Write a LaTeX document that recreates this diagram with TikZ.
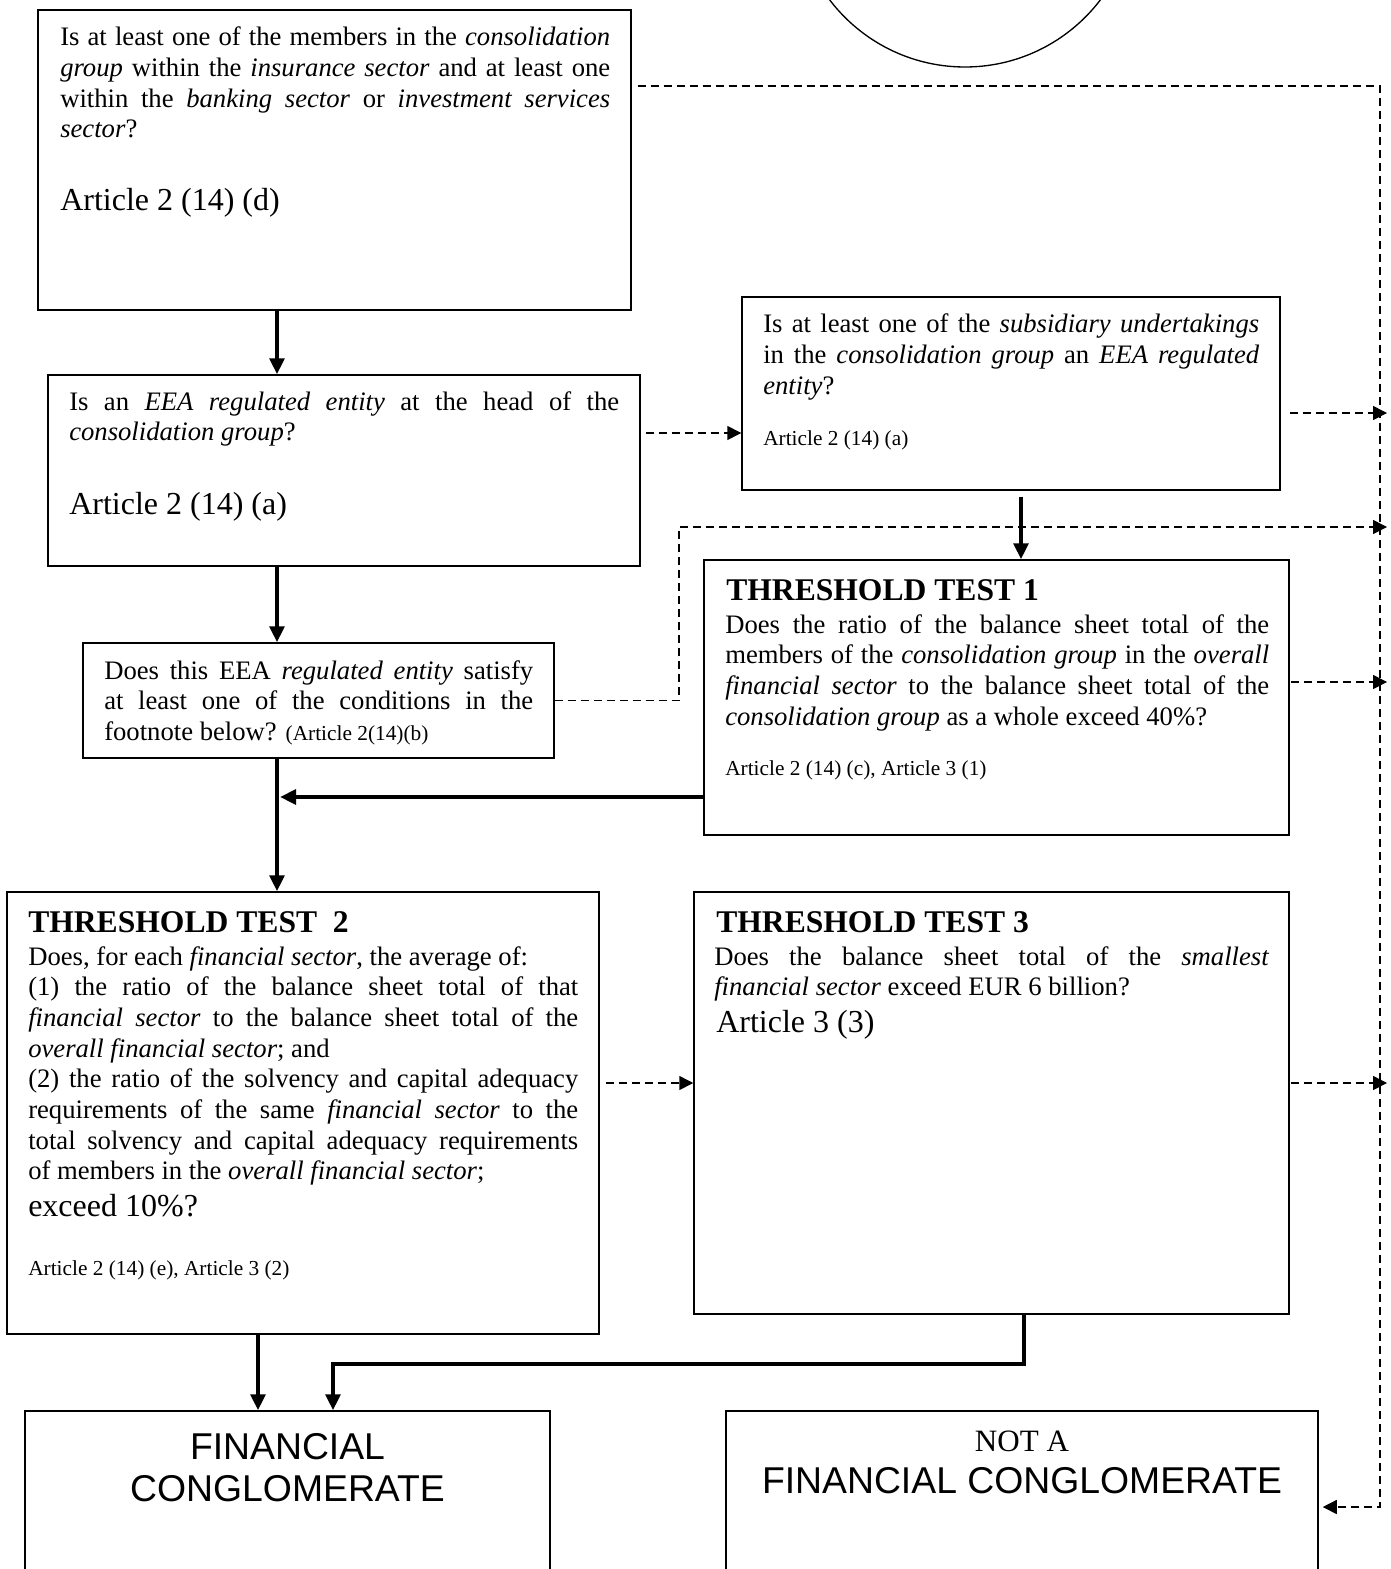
\documentclass[tikz,border=0pt]{standalone}
\usepackage{fontspec}
\setmainfont{Liberation Serif}
\setsansfont{Liberation Sans}
\usetikzlibrary{arrows.meta,fit,calc}
\tolerance=10000 \hbadness=10000 \hyphenpenalty=10000 \exhyphenpenalty=10000
\newcommand\bodyf{\fontsize{20}{23}\selectfont}
\newcommand\smallf{\fontsize{16}{19}\selectfont}
\newcommand\bigf{\fontsize{24}{28}\selectfont}
\newcommand\midf{\fontsize{24}{27}\selectfont}
\newcommand\headf{\fontsize{23.7}{27}\selectfont\bfseries}
\begin{document}
\begin{tikzpicture}[x=0.75pt,y=-0.75pt,
  box/.style={draw, line width=1.1pt, inner sep=0pt},
  txt/.style={anchor=base west, inner sep=0pt, align=justify, font=\bodyf},
  lbl/.style={anchor=base west, inner sep=0pt},
  flow/.style={line width=3.6pt, -{Triangle[length=12pt,width=11pt]}},
  alt/.style={line width=1.1pt, dash pattern=on 6pt off 3.75pt, -{Triangle[length=10.5pt,width=10.5pt]}}
]
\useasboundingbox (0,0) rectangle (1390,1569);
\clip (0,0) rectangle (1390,1569);

\node[draw, circle, line width=1pt, minimum size=255pt, inner sep=0pt] (start) at (965,-103) {};

% boxes
\node[box, fit={(38,10) (631,310)}] (A) {};
\node[box, fit={(48,375) (640,566)}] (B) {};
\node[box, fit={(742,297) (1280,490)}] (C) {};
\node[box, fit={(83,643) (554,758)}] (D) {};
\node[box, fit={(704,560) (1289,835)}] (E) {};
\node[box, fit={(7,892) (599,1334)}] (F) {};
\node[box, fit={(694,892) (1289,1314)}] (G) {};
\node[box, fit={(25,1411) (550,1600)}] (H) {};
\node[box, fit={(726,1411) (1318,1600)}] (I) {};

% texts
\node[txt, text width=412.5pt] (At) at (60,46) {Is at least one of the members in the \textit{consolidation}\linebreak \textit{group} within the \textit{insurance sector} and at least one\linebreak within the \textit{banking sector} or \textit{investment services}\linebreak \textit{sector}?};
\node[lbl, font=\bigf] (Aa) at (60,211) {Article 2 (14) (d)};

\node[txt, text width=412.5pt] (Bt) at (69,410) {Is an \textit{EEA regulated entity} at the head of the\linebreak \textit{consolidation group}?};
\node[lbl, font=\bigf] (Ba) at (69,514) {Article 2 (14) (a)};

\node[txt, text width=372pt] (Ct) at (763,333) {Is at least one of the \textit{subsidiary undertakings}\linebreak in the \textit{consolidation group} an \textit{EEA regulated}\linebreak \textit{entity}?};
\node[lbl, font=\smallf] (Ca) at (763,445) {Article 2 (14) (a)};

\node[txt, text width=321.75pt] (Dt) at (104,679) {Does this EEA \textit{regulated entity} satisfy\linebreak at least one of the conditions in the\linebreak footnote below? {\smallf(Article 2(14)(b)}};

\node[lbl, font=\headf] (Eh) at (726,600) {THRESHOLD TEST 1};
\node[txt, text width=408pt] (Et) at (725,633) {Does the ratio of the balance sheet total of the\linebreak members of the \textit{consolidation group} in the \textit{overall}\linebreak \textit{financial sector} to the balance sheet total of the\linebreak \textit{consolidation group} as a whole exceed 40\%?};
\node[lbl, font=\smallf] (Ea) at (725,775) {Article 2 (14) (c), Article 3 (1)};

\node[lbl, font=\headf] (Fh) at (28,932) {THRESHOLD TEST\ \ 2};
\node[txt, text width=412.5pt] (Ft) at (28,965) {Does, for each \textit{financial sector}, the average of:\\(1) the ratio of the balance sheet total of that\linebreak \textit{financial sector} to the balance sheet total of the\linebreak \textit{overall financial sector}; and\\(2) the ratio of the solvency and capital adequacy\linebreak requirements of the same \textit{financial sector} to the\linebreak total solvency and capital adequacy requirements\linebreak of members in the \textit{overall financial sector};};
\node[lbl, font=\midf] (Fx) at (28,1216) {exceed 10\%?};
\node[lbl, font=\smallf] (Fa) at (28,1275) {Article 2 (14) (e), Article 3 (2)};

\node[lbl, font=\headf] (Gh) at (716,932) {THRESHOLD TEST 3};
\node[txt, text width=416.25pt] (Gt) at (714,965) {Does the balance sheet total of the \textit{smallest}\linebreak \textit{financial sector} exceed EUR 6 billion?};
\node[lbl, font=\midf] (Ga) at (716,1032) {Article 3 (3)};

\node[align=center, inner sep=0pt, font=\sffamily\fontsize{28}{31.5}\selectfont] (Ht) at (287.5,1468) {FINANCIAL\\CONGLOMERATE};
\node[anchor=base, inner sep=0pt, font=\fontsize{23.3}{27}\selectfont] (In) at (1022,1451) {NOT A};
\node[anchor=base, inner sep=0pt, font=\sffamily\fontsize{28}{31.5}\selectfont] (It) at (1022,1493) {FINANCIAL CONGLOMERATE};

% coordinates
\coordinate (trunk) at (277,0);
\coordinate (topdash) at (1380,86);
\coordinate (railtip) at (1387,0);
\coordinate (bc) at (0,433);
\coordinate (cr) at (0,413);
\coordinate (dk) at (679,527);
\coordinate (er) at (0,682);
\coordinate (fg) at (0,1083);
\coordinate (ej) at (280,797);
\coordinate (ce) at (1021,0);
\coordinate (fh) at (258,0);
\coordinate (gx) at (1024,1364);
\coordinate (hx) at (333,1364);
\coordinate (iin) at (1380,1507);

% solid flow
\draw[flow] (A.south -| trunk) -- (B.north -| trunk);
\draw[flow] (B.south -| trunk) -- (D.north -| trunk);
\draw[flow] (D.south -| trunk) -- (F.north -| trunk);
\draw[flow] (E.west |- ej) -- (ej);
\draw[flow] ($(C.south -| ce)+(0,6)$) -- (E.north -| ce);
\draw[flow] (F.south -| fh) -- (H.north -| fh);
\draw[flow] (G.south -| gx) -- (gx) -- (hx) -- (H.north -| hx);

% dashed alternatives
\draw[alt] ($(A.east |- topdash)+(6,0)$) -- (topdash) -- (iin) -- ($(I.east |- iin)+(4,0)$);
\draw[alt] ($(B.east |- bc)+(5,0)$) -- (C.west |- bc);
\draw[alt] ($(C.east |- cr)+(9,0)$) -- (railtip |- cr);
\draw[alt] (D.east) -- (dk |- D.east) -- (dk) -- (railtip |- dk);
\draw[alt] ($(E.east |- er)+(1,0)$) -- (railtip |- er);
\draw[alt] ($(F.east |- fg)+(6,0)$) -- (G.west |- fg);
\draw[alt] ($(G.east |- fg)+(1,0)$) -- (railtip |- fg);
\end{tikzpicture}
\end{document}
